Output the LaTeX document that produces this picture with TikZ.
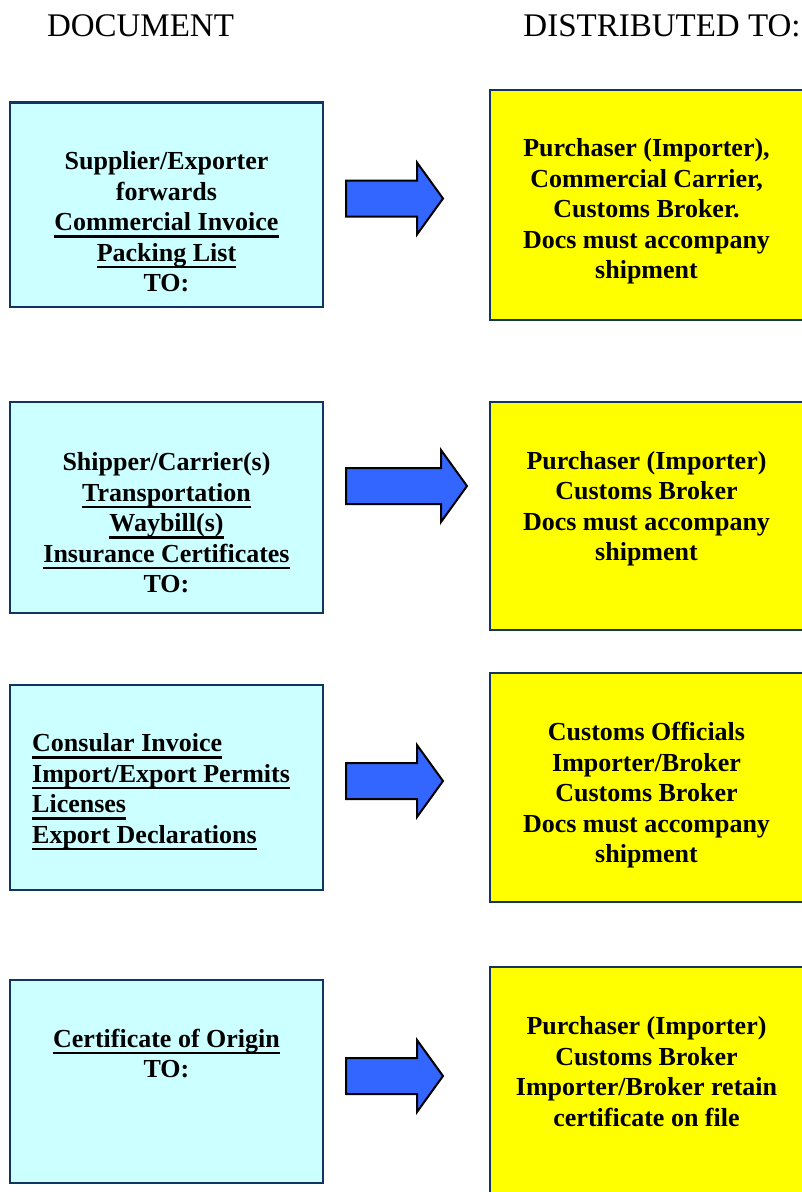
\documentclass[tikz,border=0pt]{standalone}
\usepackage{fontspec}
\setmainfont{Liberation Serif}

\definecolor{boxline}{RGB}{18,52,98}
\definecolor{doccyan}{RGB}{204,255,255}
\definecolor{distyellow}{RGB}{255,255,0}
\definecolor{arrowblue}{RGB}{51,102,255}

\newsavebox\ulsave
\newcommand\ulline[1]{\sbox\ulsave{#1}\rlap{\rule[-7pt]{\wd\ulsave}{2.5pt}}\usebox\ulsave}

\begin{document}
\begin{tikzpicture}[x=1pt,y=-1pt,
  heading/.style={font=\fontsize{33}{38}\selectfont, anchor=base, inner sep=0pt},
  docbox/.style={draw=boxline, line width=2.5pt, fill=doccyan, minimum width=313pt},
  distbox/.style={draw=boxline, line width=2.5pt, fill=distyellow, minimum width=325pt},
  boxtext/.style={font=\fontsize{26}{30.5}\selectfont\bfseries, align=center, inner sep=0pt},
  blockarrow/.style={draw=black, line width=2pt, fill=arrowblue, line join=miter}]
\useasboundingbox (0,0) rectangle (801,1192);
\fill[white] (0,0) rectangle (801,1192);

% headings
\node[heading] (hdoc) at (140.5,36) {DOCUMENT};
\node[heading] (hdist) at (662,36) {DISTRIBUTED TO:};

% boxes
\node[docbox, minimum height=204.5pt] (doc1) at (166.5,204.75) {};
\node[docbox, minimum height=211pt] (doc2) at (166.5,507.5) {};
\node[docbox, minimum height=205pt] (doc3) at (166.5,787.5) {};
\node[docbox, minimum height=203pt] (doc4) at (166.5,1081.5) {};
\node[distbox, minimum height=230pt] (dist1) at (652.5,205) {};
\node[distbox, minimum height=228pt] (dist2) at (652.5,516) {};
\node[distbox, minimum height=229pt] (dist3) at (652.5,787.5) {};
\node[distbox, minimum height=233pt] (dist4) at (652.5,1083.5) {};

% texts
\node[boxtext] (doctext1) at (166.5,224.6)
  {\strut Supplier/Exporter\\forwards\\\ulline{Commercial Invoice}\\\ulline{Packing List}\\TO:\strut};
\node[boxtext] (doctext2) at (166.5,525.4)
  {\strut Shipper/Carrier(s)\\\ulline{Transportation}\\\ulline{Waybill(s)}\\\ulline{Insurance Certificates}\\TO:\strut};
\node[boxtext, align=left, anchor=west] (doctext3) at (32,791.4)
  {\strut\ulline{Consular Invoice}\\\ulline{Import/Export Permits}\\\ulline{Licenses}\\\ulline{Export Declarations}\strut};
\node[boxtext] (doctext4) at (166.5,1056.4)
  {\strut\ulline{Certificate of Origin}\\TO:\strut};

\node[boxtext] (disttext1) at (646.5,211.4)
  {\strut Purchaser (Importer),\\Commercial Carrier,\\Customs Broker.\\Docs must accompany\\shipment\strut};
\node[boxtext] (disttext2) at (646.5,508.9)
  {\strut Purchaser (Importer)\\Customs Broker\\Docs must accompany\\shipment\strut};
\node[boxtext] (disttext3) at (646.5,795.4)
  {\strut Customs Officials\\Importer/Broker\\Customs Broker\\Docs must accompany\\shipment\strut};
\node[boxtext] (disttext4) at (646.5,1074.4)
  {\strut Purchaser (Importer)\\Customs Broker\\Importer/Broker retain\\certificate on file\strut};

% arrows
\foreach \yc/\tip in {198.5/443, 486/467, 781/443, 1076/443}
  \draw[blockarrow] (346,\yc-18) -- (\tip-26,\yc-18) -- (\tip-26,\yc-36) -- (\tip,\yc)
    -- (\tip-26,\yc+36) -- (\tip-26,\yc+18) -- (346,\yc+18) -- cycle;
\end{tikzpicture}
\end{document}
